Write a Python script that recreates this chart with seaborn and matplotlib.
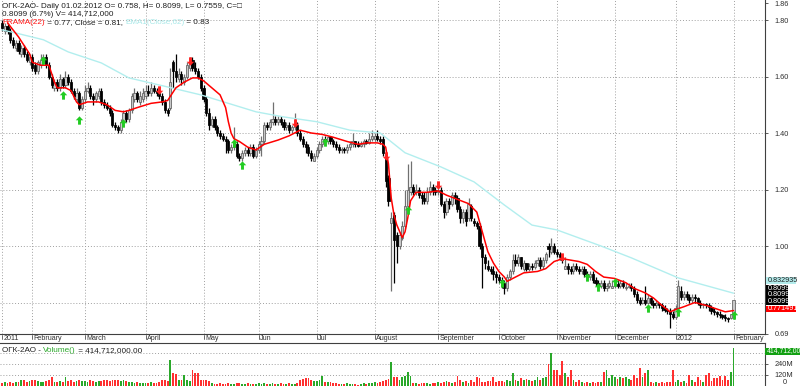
import numpy as np
import matplotlib
matplotlib.use("Agg")
import matplotlib.pyplot as plt
import seaborn as sns
from matplotlib.path import Path
from matplotlib.patches import Rectangle
from matplotlib.lines import Line2D

sns.set_style("white")
plt.rcParams['font.family'] = ['Liberation Sans', 'DejaVu Sans']

# ---------------- data (daily bars, Jan 2011 .. 1 Feb 2012) ----------------
close_px = [
    # Jan 2011
    1.77, 1.78, 1.76, 1.73, 1.71, 1.72, 1.69, 1.70, 1.68, 1.66, 1.67,
    # Feb
    1.63, 1.62, 1.65, 1.66, 1.67, 1.64, 1.60, 1.57, 1.58, 1.56, 1.59, 1.57, 1.60, 1.58, 1.55, 1.53, 1.54, 1.49, 1.52,
    # Mar
    1.55, 1.56, 1.53, 1.52, 1.54, 1.55, 1.51, 1.50, 1.49, 1.47, 1.43, 1.42, 1.41, 1.44, 1.47, 1.45, 1.48, 1.53, 1.54, 1.52, 1.53, 1.54,
    # Apr
    1.55, 1.54, 1.56, 1.55, 1.54, 1.53, 1.51, 1.48, 1.47, 1.58, 1.62, 1.60, 1.61, 1.59, 1.60, 1.64, 1.65, 1.63, 1.62, 1.60, 1.56,
    # May
    1.52, 1.47, 1.43, 1.45, 1.42, 1.40, 1.39, 1.38, 1.37, 1.34, 1.35, 1.37, 1.32, 1.31, 1.33, 1.34, 1.33, 1.35, 1.32, 1.34,
    # Jun
    1.36, 1.37, 1.43, 1.42, 1.44, 1.45, 1.44, 1.45, 1.44, 1.42, 1.43, 1.41, 1.42, 1.43, 1.40, 1.38, 1.36, 1.35, 1.33, 1.31, 1.32,
    # Jul
    1.34, 1.36, 1.38, 1.37, 1.385, 1.37, 1.36, 1.35, 1.34, 1.345, 1.34, 1.35, 1.36, 1.37, 1.36, 1.355, 1.36, 1.37, 1.365, 1.38, 1.39,
    # Aug
    1.39, 1.38, 1.37, 1.33, 1.23, 1.16, 1.10, 1.02, 1.00, 1.04, 1.07, 1.14, 1.20, 1.21, 1.19, 1.20, 1.18, 1.17, 1.16, 1.19, 1.21, 1.20, 1.19,
    # Sep
    1.20, 1.15, 1.12, 1.16, 1.15, 1.18, 1.17, 1.13, 1.10, 1.12, 1.09, 1.15, 1.10, 1.08, 1.07, 1.00, 0.96, 0.94, 0.92, 0.91, 0.90, 0.89,
    # Oct
    0.88, 0.86, 0.85, 0.89, 0.91, 0.95, 0.94, 0.96, 0.93, 0.94, 0.92, 0.93, 0.925, 0.94, 0.95, 0.93, 0.95, 0.97, 0.99, 1.00, 0.98,
    # Nov
    0.97, 0.96, 0.95, 0.93, 0.92, 0.91, 0.93, 0.92, 0.91, 0.92, 0.90, 0.89, 0.90, 0.88, 0.87, 0.86, 0.87, 0.85, 0.86, 0.87, 0.86,
    # Dec
    0.865, 0.86, 0.87, 0.86, 0.855, 0.86, 0.85, 0.83, 0.81, 0.80, 0.81, 0.80, 0.815, 0.80, 0.79, 0.80, 0.79, 0.78, 0.775, 0.77, 0.76, 0.75,
    # Jan 2012
    0.78, 0.86, 0.82, 0.83, 0.82, 0.81, 0.82, 0.815, 0.80, 0.79, 0.795, 0.79, 0.785, 0.77, 0.765, 0.76, 0.755, 0.75, 0.745, 0.74, 0.758,
    # 1 Feb 2012
    0.8099,
]
open_px = [
    1.79, 1.76, 1.78, 1.76, 1.73, 1.70, 1.72, 1.68, 1.70, 1.68, 1.65,
    1.67, 1.64, 1.62, 1.64, 1.65, 1.67, 1.64, 1.60, 1.56, 1.58, 1.56, 1.59, 1.57, 1.60, 1.58, 1.55, 1.52, 1.54, 1.49,
    1.52, 1.55, 1.56, 1.53, 1.52, 1.53, 1.55, 1.51, 1.50, 1.49, 1.47, 1.43, 1.42, 1.41, 1.44, 1.47, 1.45, 1.48, 1.52, 1.54, 1.51, 1.52,
    1.53, 1.55, 1.54, 1.56, 1.55, 1.54, 1.53, 1.51, 1.48, 1.49, 1.65, 1.62, 1.59, 1.61, 1.58, 1.60, 1.63, 1.66, 1.63, 1.62, 1.60,
    1.56, 1.52, 1.47, 1.43, 1.45, 1.42, 1.40, 1.39, 1.38, 1.37, 1.34, 1.35, 1.36, 1.32, 1.31, 1.33, 1.34, 1.33, 1.35, 1.32,
    1.34, 1.36, 1.37, 1.43, 1.42, 1.44, 1.45, 1.44, 1.45, 1.44, 1.42, 1.43, 1.41, 1.42, 1.43, 1.40, 1.38, 1.36, 1.35, 1.33, 1.30,
    1.32, 1.34, 1.36, 1.38, 1.37, 1.385, 1.37, 1.36, 1.35, 1.34, 1.345, 1.34, 1.35, 1.36, 1.37, 1.36, 1.355, 1.36, 1.37, 1.365, 1.38,
    1.38, 1.39, 1.38, 1.38, 1.31, 1.24, 1.08, 1.11, 1.04, 1.00, 1.03, 1.07, 1.14, 1.19, 1.21, 1.19, 1.20, 1.18, 1.17, 1.16, 1.19, 1.21, 1.20,
    1.19, 1.20, 1.15, 1.12, 1.16, 1.15, 1.18, 1.17, 1.13, 1.10, 1.12, 1.10, 1.14, 1.09, 1.08, 1.07, 1.00, 0.96, 0.93, 0.92, 0.91, 0.90,
    0.89, 0.88, 0.87, 0.85, 0.89, 0.91, 0.95, 0.94, 0.96, 0.92, 0.94, 0.92, 0.93, 0.925, 0.94, 0.95, 0.93, 0.95, 1.00, 0.98, 1.00,
    0.98, 0.97, 0.96, 0.92, 0.93, 0.92, 0.91, 0.93, 0.92, 0.91, 0.92, 0.90, 0.89, 0.90, 0.88, 0.87, 0.86, 0.87, 0.85, 0.86, 0.85,
    0.86, 0.865, 0.86, 0.87, 0.85, 0.855, 0.86, 0.85, 0.83, 0.81, 0.80, 0.81, 0.80, 0.815, 0.80, 0.79, 0.80, 0.79, 0.78, 0.775, 0.77, 0.76,
    0.75, 0.78, 0.84, 0.82, 0.83, 0.82, 0.81, 0.82, 0.815, 0.80, 0.79, 0.795, 0.79, 0.785, 0.77, 0.765, 0.76, 0.755, 0.75, 0.745, 0.745,
    0.758,
]
high_px = [
    1.80, 1.79, 1.79, 1.77, 1.74, 1.73, 1.73, 1.71, 1.71, 1.69, 1.68,
    1.68, 1.65, 1.66, 1.68, 1.68, 1.68, 1.65, 1.61, 1.59, 1.59, 1.61, 1.60, 1.62, 1.61, 1.59, 1.56, 1.56, 1.55, 1.53,
    1.57, 1.58, 1.57, 1.54, 1.55, 1.56, 1.56, 1.52, 1.51, 1.50, 1.48, 1.44, 1.43, 1.45, 1.48, 1.48, 1.49, 1.54, 1.56, 1.55, 1.55, 1.56,
    1.57, 1.57, 1.58, 1.57, 1.56, 1.55, 1.54, 1.52, 1.49, 1.63, 1.66, 1.68, 1.63, 1.62, 1.61, 1.65, 1.67, 1.67, 1.65, 1.63, 1.61,
    1.57, 1.53, 1.49, 1.46, 1.46, 1.43, 1.41, 1.40, 1.39, 1.38, 1.36, 1.42, 1.37, 1.33, 1.34, 1.35, 1.35, 1.36, 1.36, 1.35,
    1.37, 1.39, 1.44, 1.44, 1.45, 1.51, 1.46, 1.46, 1.46, 1.45, 1.44, 1.44, 1.43, 1.47, 1.44, 1.41, 1.39, 1.37, 1.36, 1.34, 1.33,
    1.35, 1.37, 1.39, 1.39, 1.39, 1.39, 1.38, 1.37, 1.36, 1.35, 1.35, 1.36, 1.37, 1.40, 1.37, 1.37, 1.37, 1.38, 1.38, 1.40, 1.41,
    1.40, 1.41, 1.39, 1.39, 1.32, 1.25, 1.12, 1.12, 1.05, 1.05, 1.09, 1.20, 1.29, 1.30, 1.22, 1.22, 1.21, 1.19, 1.19, 1.21, 1.23, 1.22, 1.21,
    1.22, 1.21, 1.16, 1.17, 1.17, 1.19, 1.19, 1.18, 1.14, 1.13, 1.13, 1.17, 1.15, 1.10, 1.09, 1.08, 1.01, 0.97, 0.95, 0.93, 0.93, 0.91,
    0.90, 0.89, 0.88, 0.90, 0.92, 0.97, 0.97, 0.97, 0.96, 0.95, 0.94, 0.94, 0.94, 0.95, 0.96, 0.96, 0.96, 0.98, 1.01, 1.03, 1.01,
    0.99, 0.98, 0.97, 0.96, 0.94, 0.93, 0.94, 0.94, 0.93, 0.93, 0.93, 0.91, 0.91, 0.91, 0.89, 0.88, 0.88, 0.88, 0.87, 0.88, 0.88,
    0.88, 0.88, 0.88, 0.88, 0.87, 0.87, 0.87, 0.86, 0.84, 0.82, 0.82, 0.86, 0.83, 0.82, 0.81, 0.81, 0.80, 0.80, 0.79, 0.78, 0.78, 0.77,
    0.79, 0.88, 0.86, 0.84, 0.84, 0.83, 0.83, 0.83, 0.82, 0.81, 0.80, 0.80, 0.80, 0.79, 0.78, 0.77, 0.77, 0.76, 0.76, 0.75, 0.76,
    0.8099,
]
low_px = [
    1.76, 1.75, 1.75, 1.72, 1.70, 1.69, 1.68, 1.67, 1.67, 1.65, 1.64,
    1.62, 1.61, 1.61, 1.63, 1.64, 1.63, 1.59, 1.56, 1.55, 1.55, 1.55, 1.56, 1.56, 1.57, 1.54, 1.52, 1.51, 1.48, 1.48,
    1.51, 1.54, 1.52, 1.50, 1.51, 1.52, 1.50, 1.49, 1.48, 1.46, 1.42, 1.41, 1.40, 1.40, 1.43, 1.44, 1.44, 1.47, 1.51, 1.51, 1.50, 1.51,
    1.52, 1.53, 1.53, 1.54, 1.53, 1.52, 1.50, 1.47, 1.46, 1.48, 1.56, 1.58, 1.58, 1.57, 1.57, 1.59, 1.62, 1.62, 1.61, 1.59, 1.55,
    1.51, 1.46, 1.41, 1.42, 1.41, 1.39, 1.38, 1.37, 1.33, 1.33, 1.33, 1.34, 1.31, 1.30, 1.30, 1.32, 1.32, 1.32, 1.31, 1.31,
    1.33, 1.32, 1.36, 1.41, 1.41, 1.43, 1.43, 1.43, 1.43, 1.41, 1.41, 1.40, 1.40, 1.41, 1.39, 1.37, 1.35, 1.33, 1.32, 1.30, 1.30,
    1.31, 1.33, 1.35, 1.36, 1.36, 1.36, 1.35, 1.34, 1.33, 1.33, 1.33, 1.33, 1.34, 1.35, 1.35, 1.35, 1.35, 1.35, 1.36, 1.36, 1.37,
    1.37, 1.37, 1.36, 1.32, 1.21, 1.14, 0.84, 0.87, 0.94, 0.99, 1.02, 1.06, 1.13, 1.18, 1.18, 1.18, 1.17, 1.15, 1.15, 1.15, 1.18, 1.18, 1.18,
    1.18, 1.14, 1.10, 1.11, 1.13, 1.14, 1.15, 1.12, 1.08, 1.08, 1.07, 1.09, 1.09, 1.07, 1.06, 0.99, 0.85, 0.92, 0.91, 0.90, 0.88, 0.87,
    0.87, 0.85, 0.83, 0.84, 0.88, 0.90, 0.93, 0.93, 0.92, 0.91, 0.91, 0.91, 0.915, 0.92, 0.93, 0.92, 0.92, 0.94, 0.96, 0.97, 0.97,
    0.96, 0.95, 0.94, 0.92, 0.90, 0.90, 0.90, 0.91, 0.90, 0.90, 0.89, 0.88, 0.88, 0.87, 0.86, 0.85, 0.85, 0.84, 0.84, 0.85, 0.85,
    0.85, 0.85, 0.85, 0.85, 0.845, 0.85, 0.84, 0.82, 0.80, 0.79, 0.795, 0.79, 0.795, 0.79, 0.78, 0.78, 0.78, 0.77, 0.765, 0.76, 0.71, 0.74,
    0.74, 0.77, 0.81, 0.81, 0.81, 0.80, 0.80, 0.80, 0.79, 0.78, 0.78, 0.78, 0.77, 0.76, 0.755, 0.75, 0.745, 0.74, 0.735, 0.73, 0.74,
    0.7559,
]
volume_m = [
    35, 40, 30, 42, 38, 45, 40, 70, 65, 45, 50,
    70, 65, 55, 45, 40, 50, 60, 95, 45, 40, 50, 40, 95, 55, 60, 45, 50, 65, 55,
    50, 45, 60, 55, 45, 50, 55, 60, 65, 55, 60, 65, 60, 55, 60, 50, 45, 40, 35, 40, 35, 30,
    35, 30, 40, 35, 30, 40, 70, 65, 50, 284, 138, 130, 70, 60, 120, 60, 55, 175, 147, 147, 65,
    70, 60, 55, 30, 25, 20, 30, 25, 20, 30, 25, 20, 30, 35, 25, 20, 30, 25, 20, 25,
    30, 25, 35, 20, 25, 30, 20, 25, 30, 25, 20, 30, 25, 20, 35, 60, 75, 85, 90, 70, 55,
    50, 60, 110, 45, 40, 45, 35, 30, 25, 20, 25, 30, 20, 25, 20, 15, 25, 30, 25, 35, 30,
    40, 35, 45, 55, 70, 75, 265, 100, 95, 65, 100, 110, 155, 110, 35, 30, 25, 30, 35, 30, 25, 30, 35,
    40, 35, 45, 50, 40, 35, 45, 110, 65, 40, 55, 35, 60, 45, 100, 85, 45, 40, 50, 50, 95, 40,
    50, 55, 45, 60, 50, 145, 60, 55, 85, 70, 75, 60, 55, 70, 100, 60, 85, 95, 240, 356, 175,
    170, 120, 276, 138, 100, 175, 60, 45, 65, 40, 35, 45, 30, 40, 35, 45, 40, 156, 175, 90, 120,
    95, 75, 100, 90, 102, 75, 60, 120, 90, 193, 100, 138, 175, 40, 35, 45, 30, 40, 35, 45, 40, 175,
    45, 70, 40, 50, 35, 120, 65, 45, 102, 65, 40, 120, 138, 50, 90, 85, 110, 60, 105, 70, 156,
    414.712,
]

# FRAMA(22) (bar index, value)
frama_idx = [2, 6, 10, 11, 14, 17, 19, 20, 23, 25, 27, 28, 31, 35, 38, 41, 44, 46, 49, 54, 58, 60, 63, 66, 69,
             71, 73, 76, 79, 81, 82, 83, 84, 86, 89, 92, 95, 100, 104, 108, 112, 116, 120, 125, 129, 132, 136,
             138, 139, 140, 141, 142, 143, 145, 146, 147, 148, 150, 154, 158, 161, 165, 169, 172, 174, 176, 178,
             180, 182, 183, 185, 189, 194, 197, 200, 203, 206, 209, 212, 215, 218, 222, 226, 229, 233, 236, 239,
             242, 244, 247, 251, 255, 258, 262, 265]
frama_val = [1.79, 1.74, 1.68, 1.65, 1.64, 1.64, 1.58, 1.56, 1.56, 1.55, 1.51, 1.50, 1.51, 1.51, 1.50, 1.48, 1.475,
             1.48, 1.49, 1.505, 1.51, 1.515, 1.56, 1.58, 1.595, 1.595, 1.585, 1.56, 1.535, 1.49, 1.44, 1.40, 1.38,
             1.37, 1.35, 1.34, 1.36, 1.375, 1.39, 1.41, 1.40, 1.395, 1.385, 1.37, 1.36, 1.365, 1.365, 1.36, 1.35,
             1.29, 1.17, 1.11, 1.075, 1.03, 1.05, 1.10, 1.16, 1.19, 1.19, 1.195, 1.18, 1.165, 1.15, 1.12, 1.05,
             0.98, 0.94, 0.91, 0.89, 0.875, 0.885, 0.905, 0.91, 0.92, 0.945, 0.955, 0.95, 0.945, 0.935, 0.91,
             0.89, 0.885, 0.87, 0.85, 0.834, 0.816, 0.79, 0.767, 0.775, 0.785, 0.80, 0.79, 0.78, 0.767, 0.7715]

# EMA1(Close,62)
ema_idx = [0, 5, 15, 24, 36, 46, 60, 72, 92, 102, 114, 126, 137, 146, 159, 171, 182, 192, 201, 217, 228, 245, 265]
ema_val = [1.765, 1.754, 1.73, 1.687, 1.648, 1.595, 1.563, 1.535, 1.475, 1.457, 1.44, 1.41, 1.40, 1.33, 1.28,
           1.227, 1.145, 1.074, 1.057, 1.0, 0.958, 0.887, 0.833]

# signal arrows
buy_idx = [15, 22, 28, 44, 84, 87, 117, 147, 181, 212, 216, 222, 234, 245, 265]
buy_price = [1.658, 1.535, 1.446, 1.435, 1.365, 1.287, 1.368, 1.127, 0.869, 0.89, 0.855, 0.873, 0.78, 0.766, 0.756]
sell_idx = [57, 68, 106, 139, 158, 203]
sell_price = [1.552, 1.655, 1.435, 1.32, 1.216, 0.96]

month_names = ['2011', 'February', 'March', 'April', 'May', 'Jun', 'Jul', 'August', 'September',
               'October', 'November', 'December', '2012', 'February']
month_start = [0, 11, 30, 52, 73, 93, 114, 135, 158, 180, 201, 222, 244, 265]

price_ticks = [0.69, 0.80, 1.00, 1.20, 1.40, 1.60, 1.80, 1.86]
grid_prices = [0.80, 1.00, 1.20, 1.40, 1.60, 1.80]
vol_ticks = [120, 240]
vol_grid = [120, 240, 360]

# ---------------- drawing ----------------
n = len(close_px)
for nm, arr in [('open', open_px), ('high', high_px), ('low', low_px), ('vol', volume_m)]:
    assert len(arr) == n, (nm, len(arr), n)

o = np.array(open_px); c = np.array(close_px); h = np.array(high_px); l = np.array(low_px)
v = np.array(volume_m)
xi = np.arange(n)
up = c >= o

W, H = 800, 386
fig = plt.figure(figsize=(8, 3.86), dpi=100)
fig.patch.set_facecolor('white')

def fx(px):
    return px / W

def fy(py):
    return 1 - py / H

ax = fig.add_axes([0, fy(334), 765 / W, 334 / H])
axv = fig.add_axes([0, 0, 765 / W, 43 / H])

XL = (-0.72, 276.4)
ax.set_xlim(*XL)
ax.set_ylim(0.6885, 1.8708)
axv.set_xlim(*XL)
axv.set_ylim(0, 469)

dot = (0, (1, 2))
gcol = '#a0a0a0'
for gp in grid_prices:
    ax.axhline(gp, ls=dot, color=gcol, lw=0.7, zorder=0)
for ms in month_start:
    ax.axvline(ms, ls=dot, color=gcol, lw=0.7, zorder=0)
for vg in vol_grid:
    axv.axhline(vg, ls=dot, color=gcol, lw=0.7, zorder=0)

# candles
ax.vlines(xi[up], l[up], h[up], color='#707070', lw=0.9, zorder=2)
ax.vlines(xi[~up], l[~up], h[~up], color='#000000', lw=0.9, zorder=2)
ax.bar(xi[up], (c - o)[up], bottom=o[up], width=0.78, color='#c8c8c8',
       edgecolor='#5e5e5e', linewidth=0.55, zorder=3)
ax.bar(xi[~up], (c - o)[~up], bottom=o[~up], width=0.78, color='black',
       edgecolor='black', linewidth=0.55, zorder=3)

# indicator lines
sns.lineplot(x=ema_idx, y=ema_val, ax=ax, color='#b2eeee', lw=1.0, zorder=4)
sns.lineplot(x=frama_idx, y=frama_val, ax=ax, color='#ff0000', lw=1.1, zorder=5)

# arrows
av = [(0, 1), (-0.9, 0.05), (-0.35, 0.05), (-0.35, -1), (0.35, -1), (0.35, 0.05), (0.9, 0.05), (0, 1)]
codes = [Path.MOVETO] + [Path.LINETO] * 6 + [Path.CLOSEPOLY]
up_arrow = Path(av, codes)
down_arrow = Path([(x, -y) for x, y in av], codes)
ax.scatter(buy_idx, buy_price, marker=up_arrow, s=36, color='#22cc22', linewidths=0, zorder=6)
ax.scatter(sell_idx, sell_price, marker=down_arrow, s=36, color='#ff2222', linewidths=0, zorder=6)

# volume
vcol = np.where(up, '#2aa82a', '#ff3030')
axv.bar(xi, v, width=0.65, color=vcol, linewidth=0, zorder=2)

# axes styling
for a in (ax, axv):
    a.set_facecolor('white')
    a.set_xticks([])
    a.yaxis.tick_right()
    a.tick_params(axis='y', direction='out', length=2.5, width=0.6, color='#404040',
                  labelsize=5.3, labelcolor='#303030', pad=4.5)
    a.spines['left'].set_visible(False)
    a.spines['right'].set_color('#404040')
    a.spines['right'].set_linewidth(0.8)
ax.spines['top'].set_visible(False)
ax.spines['bottom'].set_color('#404040')
ax.spines['bottom'].set_linewidth(0.8)
axv.spines['bottom'].set_visible(False)
axv.spines['top'].set_color('#404040')
axv.spines['top'].set_linewidth(0.8)
ax.set_yticks(price_ticks)
ax.set_yticklabels(['%.2f' % t for t in price_ticks])
axv.set_yticks(vol_ticks)
axv.set_yticklabels(['120M', '240M'])
ax.set_xlabel(''); ax.set_ylabel('')
axv.set_xlabel(''); axv.set_ylabel('')
# zero label of the volume scale, kept inside the figure
fig.text(fx(783), fy(385.5), '0', fontsize=5.3, color='#303030', va='bottom', ha='left')

# month strip
inv = fig.transFigure.inverted()
for name, ms in zip(month_names, month_start):
    xf = inv.transform(ax.transData.transform((ms, 1.0)))[0]
    fig.add_artist(Line2D([xf, xf], [fy(335), fy(339)], color='#505050', lw=0.6))
    fig.text(xf + fx(1.5), fy(338.8), name, fontsize=5.1, color='#303030', va='center', ha='left')

# header texts
fs = 5.9
fig.text(fx(2), fy(8), 'ОГК-2АО- Daily 01.02.2012 O= 0.758, H= 0.8099, L= 0.7559, C=□',
         fontsize=fs, color='#202020', va='baseline')
fig.text(fx(2), fy(16), '0.8099 (6.7%) V= 414,712,000', fontsize=fs, color='#202020', va='baseline')
renderer = fig.canvas.get_renderer()

def colored_line(parts, px, py):
    xcur = px
    for s, col in parts:
        t = fig.text(fx(xcur), fy(py), s, fontsize=fs, color=col, va='baseline')
        bb = t.get_window_extent(renderer)
        xcur += bb.width

colored_line([('FRAMA(22)', '#ff1010'), (' = 0.77, Close = 0.81, ', '#202020'),
              ('EMA1(Close,62)', '#a8e8e8'), (' = 0.83', '#202020')], 2, 24)
colored_line([('ОГК-2АО - ', '#202020'), ('Volume()', '#2aa82a'), (' = 414,712,000.00', '#202020')], 2, 352)

# right-side value badges
def badge(x0, x1, y0, y1, text, bg, fg, fsz=5.2):
    fig.add_artist(Rectangle((fx(x0), fy(y1)), fx(x1 - x0), (y1 - y0) / H,
                             transform=fig.transFigure, facecolor=bg, edgecolor='none', zorder=10))
    fig.text(fx(x0 + 1.5), fy((y0 + y1) / 2), text, fontsize=fsz, color=fg,
             va='center', ha='left', zorder=11)

badge(766, 796, 277.3, 284.0, '0.832935', '#b4ecec', '#202020')
badge(766, 788, 285.0, 291.6, '0.8099', '#000000', '#ffffff')
badge(766, 788, 291.7, 298.3, '0.8099', '#000000', '#ffffff')
badge(766, 788, 298.4, 305.0, '0.8099', '#000000', '#ffffff')
badge(766, 796, 305.7, 312.3, '0.771491', '#ff0000', '#ffffff')
badge(765, 800, 347.5, 354.5, '414,712,00', '#12a012', '#ffffff', fsz=4.9)

fig.savefig('out.png', dpi=100, facecolor='white')
